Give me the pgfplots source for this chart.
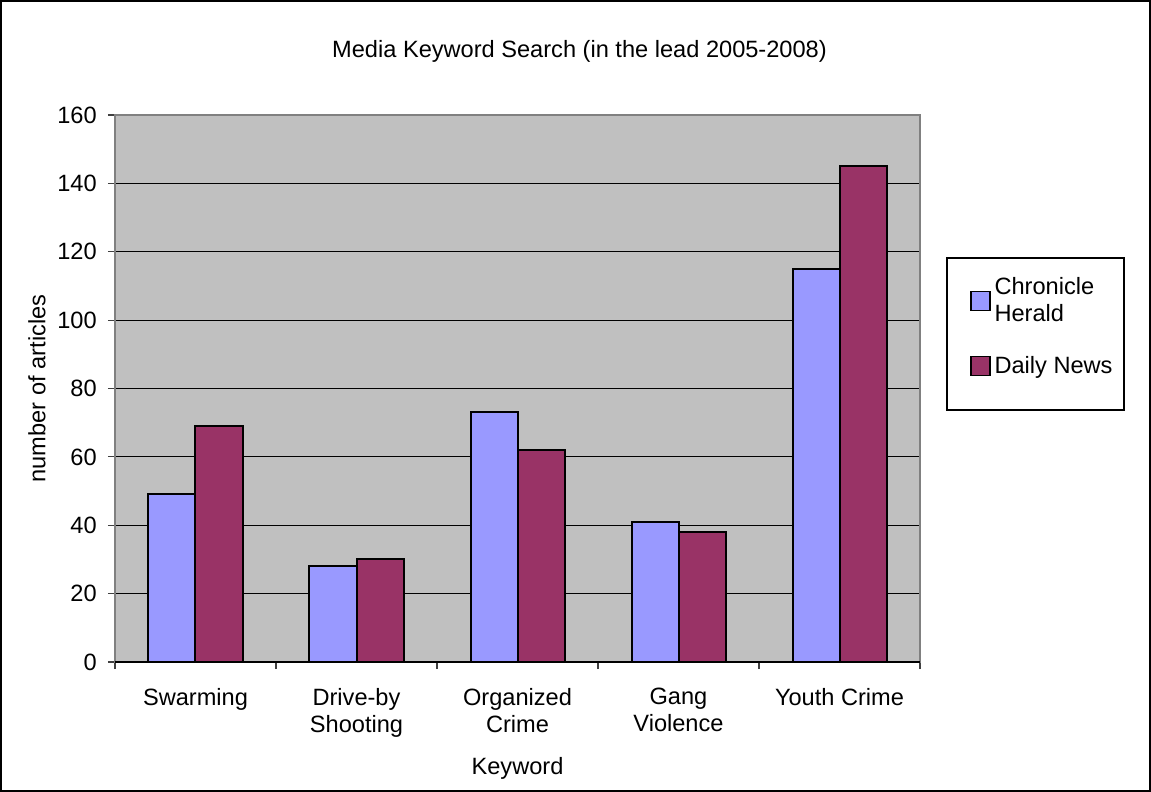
\documentclass[border=0pt]{standalone}
\usepackage{pgfplots}
\pgfplotsset{compat=1.18}
\usepackage{fontspec}
\setmainfont{Liberation Sans}
\definecolor{ch}{RGB}{153,153,255}
\definecolor{dn}{RGB}{153,51,102}
\definecolor{bg}{RGB}{192,192,192}
\definecolor{bordergray}{RGB}{128,128,128}
\newcommand{\f}{\fontsize{11.8}{13.5}\selectfont}
\begin{document}
\f
\begin{tikzpicture}[x=1pt,y=1pt]
\useasboundingbox (0,0) rectangle (575.5,-396);
\draw[line width=1pt] (0.5,-0.5) rectangle (575,-395.5);
\node[font=\f] at (289.75,-25.5) {Media Keyword Search (in the lead 2005-2008)};
\begin{axis}[
  at={(57.5pt,-331pt)}, anchor=south west,
  scale only axis, width=402.5pt, height=273.5pt,
  clip=false,
  ybar=0pt, bar width=23.5pt,
  xmin=-0.5, xmax=4.5, ymin=0, ymax=160,
  ytick={0,20,...,160},
  xtick={0,1,2,3,4},
  xticklabels={Swarming,{Drive-by\\Shooting},{Organized\\Crime},{Gang\\Violence},Youth Crime},
  xticklabel style={align=center, font=\f, yshift=-5.5pt},
  yticklabel style={font=\f, xshift=-1.5pt},
  /pgf/number format/assume math mode=true,
  major x tick style={draw=none},
  minor xtick={-0.5,0.5,...,4.5},
  xtick pos=bottom, ytick pos=left,
  tick align=outside,
  major tick length=3.5pt, minor tick length=3.5pt,
  tick style={black!75, line width=0.6pt},
  ymajorgrids, grid style={black, line width=0.5pt},
  axis background/.style={fill=bg},
  axis line style={bordergray, line width=0.75pt},
  xlabel={Keyword}, ylabel={number of articles},
  xlabel style={at={(rel axis cs:0.5,-0.1938)}, anchor=center, font=\f},
  ylabel style={at={(rel axis cs:-0.0969,0.5)}, anchor=center, font=\f},
  legend cell align=left,
  legend style={at={(1.0335,0.7386)}, anchor=north west, draw=none, fill=none,
    cells={align=left}, font=\f,
    inner xsep=11.5pt, inner ysep=7.5pt, row sep=11.5pt},
  legend image code/.code={\draw[#1, draw=black, line width=0.6pt] (0pt,-4.75pt) rectangle (9.5pt,4.75pt);},
]
\addplot[fill=ch, draw=black, line width=1pt] coordinates {(0,49) (1,28) (2,73) (3,41) (4,115)};
\addplot[fill=dn, draw=black, line width=1pt] coordinates {(0,69) (1,30) (2,62) (3,38) (4,145)};
\legend{{Chronicle\\Herald},Daily News}
\draw[black, line width=0.75pt] (rel axis cs:0,0) -- (rel axis cs:1,0);
\draw[black, line width=0.6pt] (rel axis cs:1.0335,0.7386) rectangle (rel axis cs:1.2534,0.4607);
\end{axis}
\end{tikzpicture}
\end{document}
